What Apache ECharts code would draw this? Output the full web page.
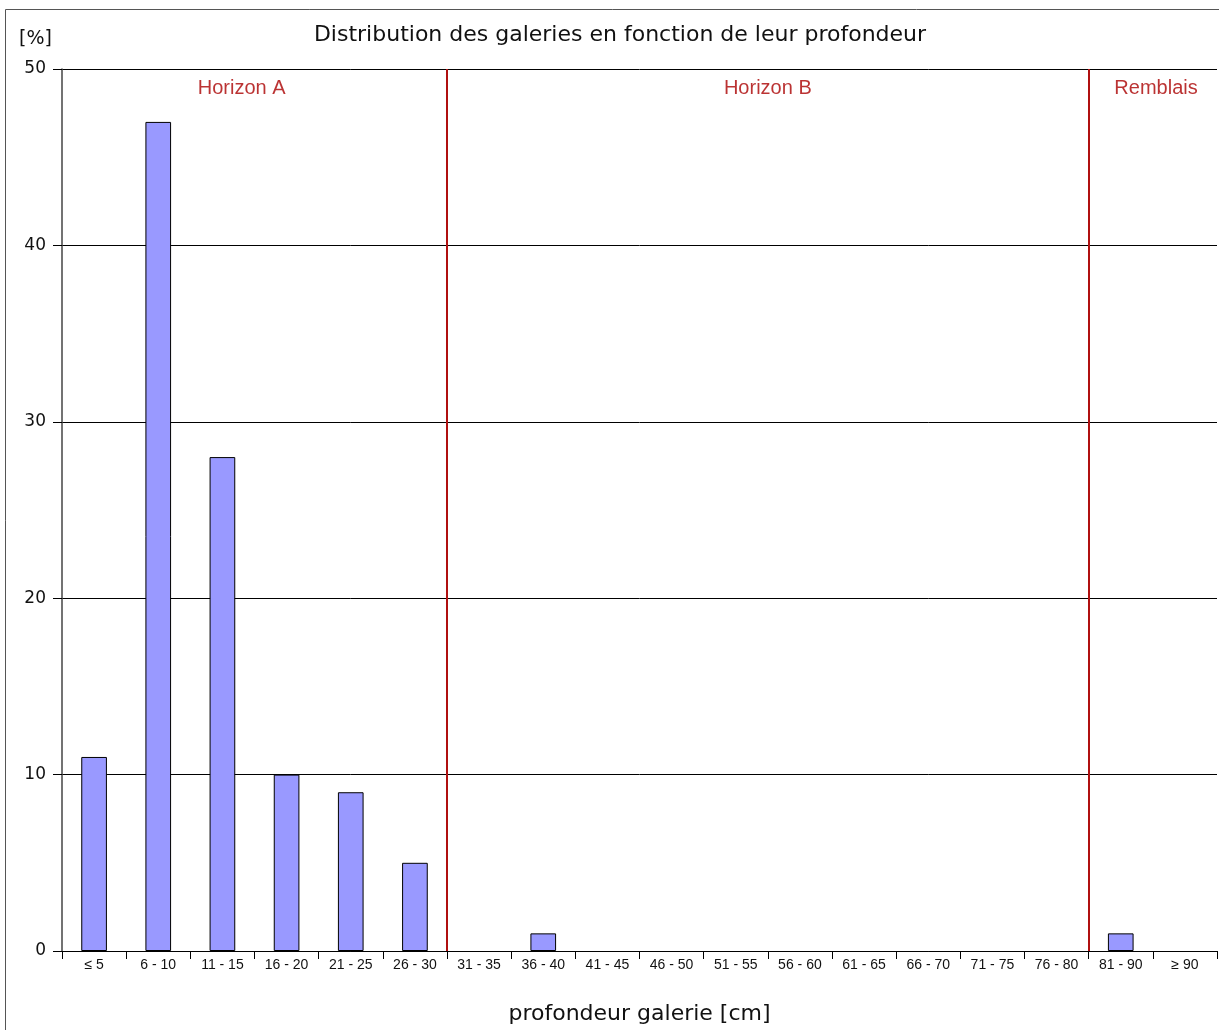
<!DOCTYPE html>
<html>
<head>
<meta charset="utf-8">
<script src="https://cdn.jsdelivr.net/npm/echarts@6/dist/echarts.min.js"></script>
<style>
  html, body { margin: 0; padding: 0; background: #fff; }
  #chart { width: 1219px; height: 1030px; }
</style>
</head>
<body>
<div id="chart"></div>
<script>
// classes de profondeur
const categories = ['≤ 5', '6 - 10', '11 - 15', '16 - 20', '21 - 25', '26 - 30', '31 - 35', '36 - 40',
  '41 - 45', '46 - 50', '51 - 55', '56 - 60', '61 - 65', '66 - 70', '71 - 75', '76 - 80', '81 - 90', '≥ 90']
// pourcentage des galeries
const values = [11, 47, 28, 10, 9, 5, 0, 1, 0, 0, 0, 0, 0, 0, 0, 0, 1, 0]
// limites entre horizons (en nombre de classes)
const boundaries = [6, 16]
const zoneNames = ['Horizon A', 'Horizon B', 'Remblais']
const zoneCenters = [2.8, 11, 17.05]
const zoneLabelY = 48.9

const chart = echarts.init(document.getElementById('chart'))

const option = {
  animation: false,
  title: {
    text: 'Distribution des galeries en fonction de leur profondeur',
    left: 615,
    textAlign: 'center',
    top: 19,
    textStyle: { fontFamily: 'DejaVu Sans', fontSize: 22, fontWeight: 'normal', color: '#111' }
  },
  graphic: [
    {
      type: 'rect',
      shape: { x: 5.5, y: 9.5, width: 1230, height: 1040 },
      style: { fill: 'none', stroke: '#555', lineWidth: 1 }
    }
  ],
  grid: { left: 62, right: 2, top: 69, bottom: 78, containLabel: false },
  xAxis: [
    {
      type: 'category',
      data: categories,
      name: 'profondeur galerie [cm]',
      nameLocation: 'middle',
      nameGap: 52,
      nameTextStyle: { fontFamily: 'DejaVu Sans', fontSize: 22, color: '#111' },
      axisLine: { lineStyle: { color: '#000', width: 1 } },
      axisTick: { show: true, length: 8, lineStyle: { color: '#000' } },
      axisLabel: { fontFamily: 'Liberation Sans', fontSize: 14, color: '#111', margin: 7, interval: 0 }
    },
    {
      type: 'value',
      min: 0,
      max: 18,
      show: false
    }
  ],
  yAxis: {
    type: 'value',
    min: 0,
    max: 50,
    interval: 10,
    name: '[%]',
    nameLocation: 'end',
    nameGap: 20,
    nameTextStyle: { fontFamily: 'DejaVu Sans', fontSize: 19, color: '#111', align: 'right', padding: [0, 10, 0, 0] },
    axisLine: { show: true, lineStyle: { color: '#444', width: 1.5 } },
    axisTick: { show: true, length: 9, lineStyle: { color: '#000' } },
    axisLabel: { fontFamily: 'DejaVu Sans', fontSize: 17, color: '#111', margin: 16 },
    splitLine: { lineStyle: { color: '#000', width: 1 } }
  },
  series: [
    {
      type: 'bar',
      data: values.map(v => ({ value: v, itemStyle: { borderWidth: v > 0 ? 1 : 0 } })),
      barWidth: '40%',
      itemStyle: { color: '#9999ff', borderColor: '#000', borderWidth: 1 }
    },
    {
      type: 'scatter',
      xAxisIndex: 1,
      symbolSize: 0,
      data: zoneCenters.map((x, i) => ({ value: [x, zoneLabelY], name: zoneNames[i] })),
      label: {
        show: true,
        position: 'inside',
        formatter: p => p.name,
        fontFamily: 'Liberation Sans',
        fontSize: 20,
        color: '#aa0000'
      },
      silent: true,
      markLine: {
        symbol: 'none',
        silent: true,
        label: { show: false },
        lineStyle: { color: '#b01010', width: 2, type: 'solid' },
        data: boundaries.map(b => ({ xAxis: b }))
      }
    }
  ]
}

chart.setOption(option)
</script>
</body>
</html>
